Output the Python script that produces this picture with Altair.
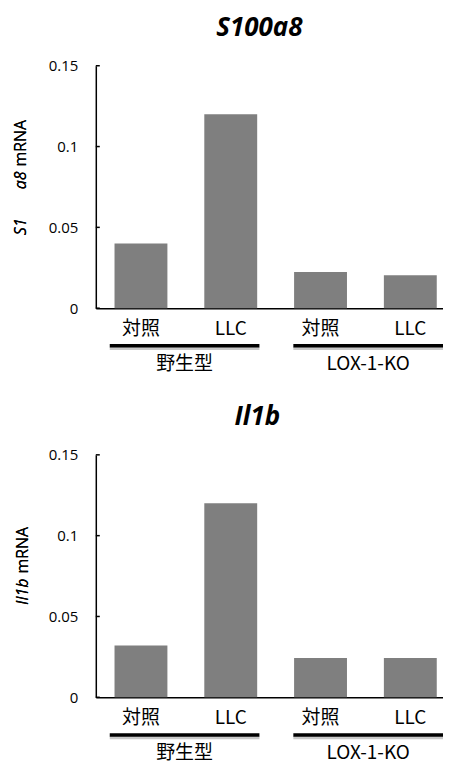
import altair as alt
import pandas as pd

categories = ["対照", "LLC", "対照", "LLC"]
genotypes = ["野生型", "野生型", "LOX-1-KO", "LOX-1-KO"]
group_order = ["野生型", "LOX-1-KO"]
s100a8_values = [0.040, 0.120, 0.0224, 0.0204]
il1b_values = [0.032, 0.120, 0.0243, 0.0243]
y_ticks = [0, 0.05, 0.1, 0.15]

H = 243
W = 348
BAR_COLOR = "#7f7f7f"
LABEL_FONT = "Noto Sans CJK JP"
NUM_FONT = "Open Sans"

keys = [g + "|" + c for g, c in zip(genotypes, categories)]


def panel(values, title, ytitle_italic, title_dx, ytitle_x, ytitle_split):
    df = pd.DataFrame({"key": keys, "cat": categories, "geno": genotypes, "value": values})
    gdf = pd.DataFrame({"geno": group_order})
    tdf = pd.DataFrame({"tick": y_ticks})

    yscale = alt.Scale(domain=[0, 0.15], nice=False, zero=True)

    bars = alt.Chart(df).mark_bar(color=BAR_COLOR).encode(
        x=alt.X("key:N", sort=keys,
                scale=alt.Scale(type="band", paddingInner=0.411, paddingOuter=0.139, align=0.75),
                axis=alt.Axis(title=None, labelExpr="split(datum.label, '|')[1]",
                              labelAngle=0, ticks=False, labelPadding=11,
                              labelFont=LABEL_FONT, labelFontSize=19, labelColor="black",
                              domainColor="black", domainWidth=1.5)),
        y=alt.Y("value:Q", scale=yscale,
                axis=alt.Axis(title=None, values=y_ticks, format="~g", ticks=False,
                              tickSize=0, labelPadding=18, grid=False,
                              labelFont=NUM_FONT, labelFontSize=15, labelColor="black",
                              domainColor="black", domainWidth=1.5)),
    )

    ticks = alt.Chart(tdf).mark_rule(color="black", strokeWidth=1.5).encode(
        y=alt.Y("tick:Q", scale=yscale),
        x=alt.value(0), x2=alt.value(4),
    )

    gscale = alt.Scale(type="band", domain=group_order, paddingInner=0.1848,
                       paddingOuter=0.038, align=1.0)
    gx = alt.X("geno:N", sort=group_order, scale=gscale, axis=None)

    gshadow = alt.Chart(gdf).mark_bar(color="#c8c8c8").encode(
        x=gx, y=alt.value(H + 39), y2=alt.value(H + 42))
    gline = alt.Chart(gdf).mark_bar(color="black").encode(
        x=gx, y=alt.value(H + 36), y2=alt.value(H + 39.5))
    gtext = alt.Chart(gdf).mark_text(font=LABEL_FONT, fontSize=19, color="black",
                                     baseline="middle").encode(
        x=gx, y=alt.value(H + 56), text="geno:N")

    yt1 = alt.Chart(gdf).mark_text(font=NUM_FONT, fontSize=16, fontStyle="italic",
                                   angle=270, align="right", baseline="middle",
                                   color="black").encode(
        x=alt.value(ytitle_x), y=alt.value(ytitle_split + 3), text=alt.value(ytitle_italic))
    yt2 = alt.Chart(gdf).mark_text(font=NUM_FONT, fontSize=16,
                                   angle=270, align="left", baseline="middle",
                                   color="black").encode(
        x=alt.value(ytitle_x), y=alt.value(ytitle_split - 2), text=alt.value("mRNA"))

    return alt.layer(bars, ticks, gshadow, gline, gtext, yt1, yt2).resolve_scale(
        x="independent"
    ).properties(
        width=W, height=H,
        title=alt.TitleParams(text=title, font=NUM_FONT, fontSize=26, fontWeight="bold",
                              fontStyle="italic", color="black", dx=title_dx, offset=18,
                              anchor="middle"),
    )


top = panel(s100a8_values, "S100a8", "S1" + "\u00a0" * 7 + "a8", -10, -75, 103)
bottom = panel(il1b_values, "Il1b", "Il1b", -12, -73, 121)

chart = alt.concat(top, bottom, columns=1, spacing=30, align="none").properties(
    padding={"left": 5, "top": 6, "right": 0, "bottom": 0}
).configure_view(stroke=None)

chart.save("out.html", embed_options={"renderer": "svg", "actions": False})
